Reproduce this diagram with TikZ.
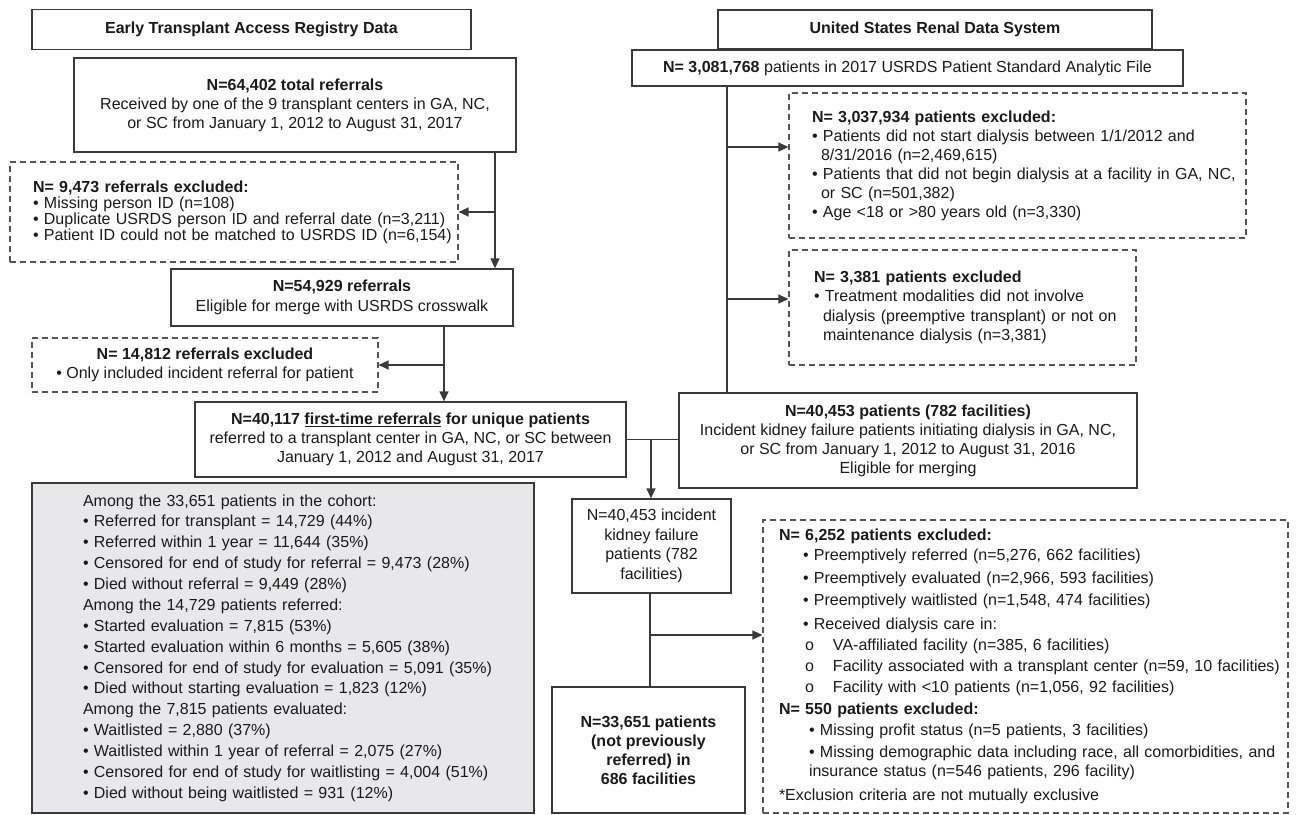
\documentclass[tikz,border=0pt]{standalone}
\usepackage{fontspec}
\setmainfont{Liberation Sans}
\usetikzlibrary{arrows.meta}
\definecolor{linec}{HTML}{3A3A3A}
\definecolor{dashc}{HTML}{555555}
\definecolor{txt}{HTML}{1A1A1A}
\definecolor{grayfill}{HTML}{E8E8EA}
\begin{document}
\begin{tikzpicture}[x=1pt,y=-1pt,
  box/.style={draw=linec, line width=1.3pt, inner sep=0pt, align=center, text=txt, font=\fontsize{16}{19}\selectfont},
  dbox/.style={draw=dashc, line width=1.1pt, dash pattern=on 6pt off 4pt, inner ysep=0pt, align=left, text=txt, font=\fontsize{16}{19}\selectfont},
  dboxc/.style={draw=dashc, line width=1.1pt, dash pattern=on 6pt off 4pt, inner sep=0pt, align=center, text=txt, font=\fontsize{16}{19}\selectfont},
  graybox/.style={draw=linec, line width=1.3pt, fill=grayfill, inner ysep=0pt, align=left, text=txt, font=\fontsize{16}{20.86}\selectfont},
  conn/.style={draw=linec, line width=1.3pt},
  arr/.style={conn, -{Triangle[length=10pt,width=9pt]}},
]
\useasboundingbox (0,0) rectangle (1297,814);

% ---------------- left column ----------------
\node[box, minimum width=439pt, minimum height=40pt] (tl) at (251.5,29.5)
  {\textbf{Early Transplant Access Registry Data}};
\node[box, minimum width=442pt, minimum height=94pt] (a) at (295,105)
  {\textbf{N=64,402 total referrals}\\Received by one of the 9 transplant centers in GA, NC,\\or SC from January 1, 2012 to August 31, 2017};
\node[dbox, minimum height=100pt, text width=402pt, inner xsep=23pt, font=\fontsize{16}{16}\selectfont] (xa) at (234,212)
  {\mbox{\textbf{N= 9,473 referrals excluded:}}\\\mbox{• Missing person ID (n=108)}\\\mbox{• Duplicate USRDS person ID and referral date (n=3,211)}\\\mbox{• Patient ID could not be matched to USRDS ID (n=6,154)}};
\node[box, minimum width=342pt, minimum height=57pt] (b) at (342,297.5)
  {\textbf{N=54,929 referrals}\\[1pt]Eligible for merge with USRDS crosswalk};
\node[dboxc, minimum width=346pt, minimum height=54pt] (xb) at (205,365)
  {\textbf{N= 14,812 referrals excluded}\\• Only included incident referral for patient};
\node[box, minimum width=431pt, minimum height=75pt] (c) at (410.5,439.5)
  {\textbf{N=40,117 \underline{first-time referrals} for unique patients}\\referred to a transplant center in GA, NC, or SC between\\January 1, 2012 and August 31, 2017};
\node[graybox, minimum height=330pt, text width=400pt, inner xsep=51pt] (g) at (283,648)
  {\mbox{Among the 33,651 patients in the cohort:}\\
   \mbox{• Referred for transplant = 14,729 (44\%)}\\
   \mbox{• Referred within 1 year = 11,644 (35\%)}\\
   \mbox{• Censored for end of study for referral = 9,473 (28\%)}\\
   \mbox{• Died without referral = 9,449 (28\%)}\\
   \mbox{Among the 14,729 patients referred:}\\
   \mbox{• Started evaluation = 7,815 (53\%)}\\
   \mbox{• Started evaluation within 6 months = 5,605 (38\%)}\\
   \mbox{• Censored for end of study for evaluation = 5,091 (35\%)}\\
   \mbox{• Died without starting evaluation = 1,823 (12\%)}\\
   \mbox{Among the 7,815 patients evaluated:}\\
   \mbox{• Waitlisted = 2,880 (37\%)}\\
   \mbox{• Waitlisted within 1 year of referral = 2,075 (27\%)}\\
   \mbox{• Censored for end of study for waitlisting = 4,004 (51\%)}\\
   \mbox{• Died without being waitlisted = 931 (12\%)}};

% ---------------- right column ----------------
\node[box, minimum width=434pt, minimum height=39pt] (tr) at (935,29.5)
  {\textbf{United States Renal Data System}};
\node[box, minimum width=551pt, minimum height=36pt] (d) at (907.5,68)
  {\textbf{N= 3,081,768} patients in 2017 USRDS Patient Standard Analytic File};
\node[dbox, minimum height=145pt, text width=411pt, inner xsep=23pt] (xd) at (1017.5,165.5)
  {\mbox{\textbf{N= 3,037,934 patients excluded:}}\\
   \mbox{• Patients did not start dialysis between 1/1/2012 and}\\
   \mbox{\hspace*{9pt}8/31/2016 (n=2,469,615)}\\
   \mbox{• Patients that did not begin dialysis at a facility in GA, NC,}\\
   \mbox{\hspace*{9pt}or SC (n=501,382)}\\
   \mbox{• Age <18 or >80 years old (n=3,330)}};
\node[dbox, minimum height=115pt, text width=297pt, inner xsep=25pt, font=\fontsize{16}{19.5}\selectfont] (xe) at (962.5,307.5)
  {\mbox{\textbf{N= 3,381 patients excluded}}\\
   \mbox{• Treatment modalities did not involve}\\
   \mbox{\hspace*{9pt}dialysis (preemptive transplant) or not on}\\
   \mbox{\hspace*{9pt}maintenance dialysis (n=3,381)}};
\node[box, minimum width=458pt, minimum height=95pt] (e) at (908,440.5)
  {\textbf{N=40,453 patients (782 facilities)}\\Incident kidney failure patients initiating dialysis in GA, NC,\\or SC from January 1, 2012 to August 31, 2016\\Eligible for merging};
\node[box, minimum width=159pt, minimum height=94pt, font=\fontsize{16}{19.5}\selectfont] (f) at (651.5,546)
  {N=40,453 incident\\kidney failure\\patients (782\\facilities)};
\node[box, minimum width=193pt, minimum height=126pt] (h) at (648.5,750)
  {\textbf{N=33,651 patients}\\\textbf{(not previously}\\\textbf{referred) in}\\\textbf{686 facilities}};
\node[dbox, minimum height=293pt, text width=493pt, inner xsep=16pt] (xf) at (1025.5,666.5)
  {\mbox{\textbf{N= 6,252 patients excluded:}}\\[1pt]
   \mbox{\hspace*{24pt}• Preemptively referred (n=5,276, 662 facilities)}\\[4pt]
   \mbox{\hspace*{24pt}• Preemptively evaluated (n=2,966, 593 facilities)}\\[3pt]
   \mbox{\hspace*{24pt}• Preemptively waitlisted (n=1,548, 474 facilities)}\\[5pt]
   \mbox{\hspace*{24pt}• Received dialysis care in:}\\[2pt]
   \mbox{\hspace*{26pt}\makebox[28pt][l]{o}VA-affiliated facility (n=385, 6 facilities)}\\[2pt]
   \mbox{\hspace*{26pt}\makebox[28pt][l]{o}Facility associated with a transplant center (n=59, 10 facilities)}\\[2pt]
   \mbox{\hspace*{26pt}\makebox[28pt][l]{o}Facility with <10 patients (n=1,056, 92 facilities)}\\[3pt]
   \mbox{\textbf{N= 550 patients excluded:}}\\[2pt]
   \mbox{\hspace*{30pt}• Missing profit status (n=5 patients, 3 facilities)}\\[3pt]
   \mbox{\hspace*{30pt}• Missing demographic data including race, all comorbidities, and}\\
   \mbox{\hspace*{30pt}insurance status (n=546 patients, 296 facility)}\\[5pt]
   \mbox{*Exclusion criteria are not mutually exclusive}};

% ---------------- connectors ----------------
\coordinate (j1) at (495,212);
\draw[arr] (a.south -| j1) -- (b.north -| j1);
\draw[arr] (j1) -- (j1 -| xa.east);

\coordinate (j2) at (444,365);
\draw[arr] (b.south -| j2) -- (c.north -| j2);
\draw[arr] (j2) -- (j2 -| xb.east);

\coordinate (j3) at (727,147);
\coordinate (j4) at (727,299);
\draw[conn] (d.south -| j3) -- (e.north -| j3);
\draw[arr] (j3) -- (j3 -| xd.west);
\draw[arr] (j4) -- (j4 -| xe.west);

\coordinate (j5) at (651,439.5);
\draw[conn] (c.east) -- (c.east -| e.west);
\draw[arr] (j5) -- (f.north -| j5);

\coordinate (j6) at (650,635);
\draw[conn] (f.south -| j6) -- (h.north -| j6);
\draw[arr] (j6) -- (j6 -| xf.west);
\end{tikzpicture}
\end{document}
